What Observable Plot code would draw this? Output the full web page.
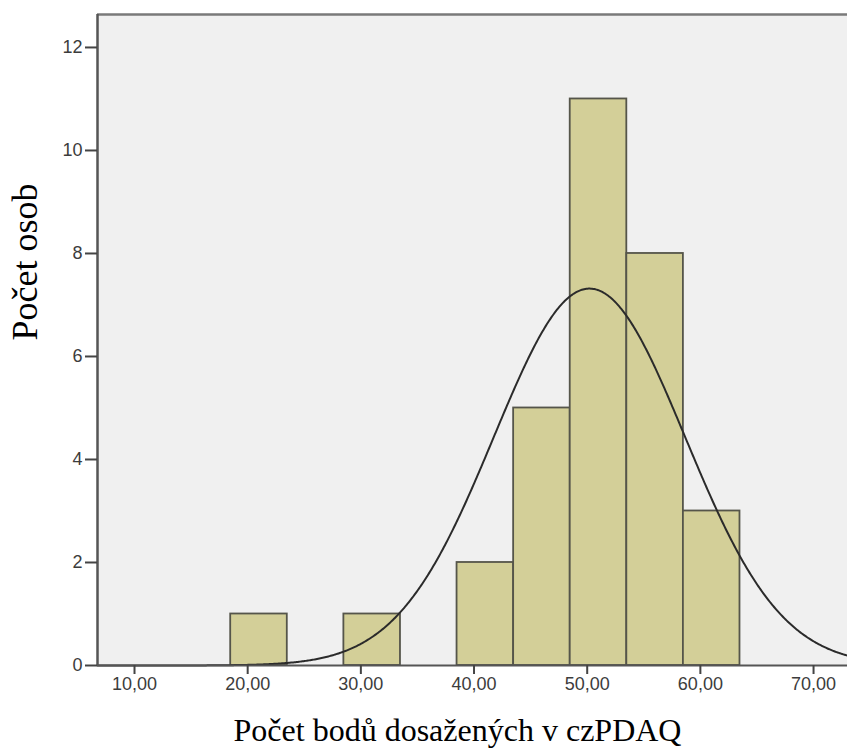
<!DOCTYPE html>
<html>
<head>
<meta charset="utf-8">
<script src="https://cdn.jsdelivr.net/npm/d3@7"></script>
<script src="https://cdn.jsdelivr.net/npm/@observablehq/plot@0.6"></script>
<style>
  html, body { margin: 0; padding: 0; background: #ffffff; }
</style>
</head>
<body>
<div id="chart"></div>
<script>
// Histogram bins (lower edges), bin width 5, counts
const binLower = [18.5, 28.5, 38.5, 43.5, 48.5, 53.5, 58.5];
const counts   = [1, 1, 2, 5, 11, 8, 3];
const binWidth = 5;

// Fitted normal curve parameters (SPSS style)
const fitMean = 50.2;
const fitSD = 8.45;
const fitN = 31;

// Ticks & labels
const xTicks = [10, 20, 30, 40, 50, 60, 70];
const yTicks = [0, 2, 4, 6, 8, 10, 12];
const xTitle = "Počet bodů dosažených v czPDAQ";
const yTitle = "Počet osob";

const xDomain = [6.73, 73];
const yDomain = [0, 12.64];

const bars = binLower.map((lo, i) => ({x1: lo, x2: lo + binWidth, y: counts[i]}));

const curve = d3.range(xDomain[0], xDomain[1] + 0.01, 0.1).map(x => ({
  x,
  y: fitN * binWidth / (fitSD * Math.sqrt(2 * Math.PI)) * Math.exp(-0.5 * ((x - fitMean) / fitSD) ** 2)
}));

const fmt = d => d.toFixed(2).replace(".", ",");

const chart = Plot.plot({
  width: 847,
  height: 754,
  marginLeft: 97,
  marginRight: 0,
  marginTop: 14,
  marginBottom: 89,
  style: {background: "#ffffff", fontFamily: "'Liberation Sans', Arial, sans-serif"},
  x: {domain: xDomain},
  y: {domain: yDomain},
  marks: [
    Plot.frame({fill: "#f0f0f0", stroke: "none"}),
    Plot.rectY(bars, {x1: "x1", x2: "x2", y: "y", fill: "#d3cf98", stroke: "#55554a", strokeWidth: 1.8}),
    Plot.line(curve, {x: "x", y: "y", stroke: "#2b2b2b", strokeWidth: 2, curve: "linear"}),
    Plot.ruleY([yDomain[1]], {stroke: "#7a7a7a", strokeWidth: 2.5}),
    Plot.ruleX([xDomain[0]], {stroke: "#555555", strokeWidth: 2.5}),
    Plot.ruleY([0], {stroke: "#555555", strokeWidth: 2}),
    Plot.axisY({ticks: yTicks, tickFormat: d => String(d), tickSize: 12, tickPadding: 3,
      fontSize: 18, fill: "#3c3c3c", stroke: "#444", strokeWidth: 2, label: null}),
    Plot.axisX({ticks: xTicks, tickFormat: fmt, tickSize: 9, tickPadding: 3,
      fontSize: 18, fill: "#3c3c3c", stroke: "#444", strokeWidth: 2, label: null}),
    Plot.text([xTitle], {frameAnchor: "bottom", dx: -15, dy: 75, fontSize: 32,
      fontFamily: "'Liberation Serif', 'Times New Roman', serif", fill: "#000", lineAnchor: "bottom"}),
    Plot.text([yTitle], {frameAnchor: "left", textAnchor: "middle", dx: -72, dy: -78, rotate: -90, fontSize: 36,
      fontFamily: "'Liberation Serif', 'Times New Roman', serif", fill: "#000"})
  ]
});

document.getElementById("chart").appendChild(chart);
</script>
</body>
</html>
